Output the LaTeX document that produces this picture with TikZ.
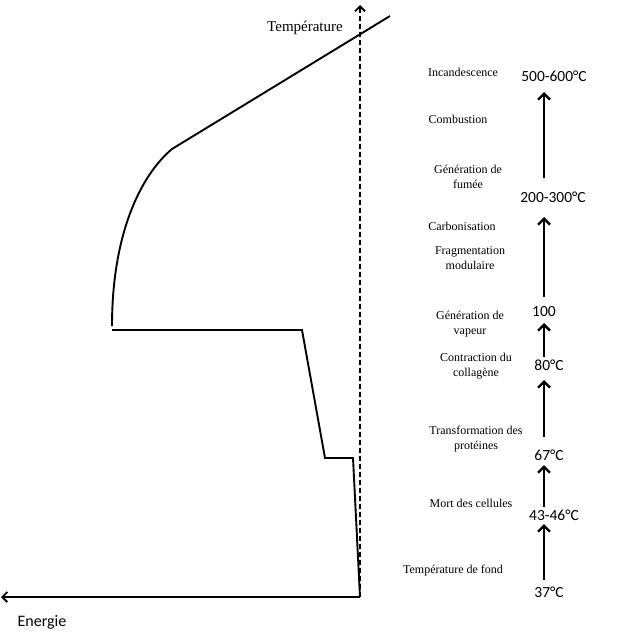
\documentclass[tikz,border=0pt]{standalone}
\usepackage{fontspec}
\setmainfont{Liberation Serif}
\newfontfamily\calib{Carlito}
\usetikzlibrary{arrows.meta}
\tikzset{
  lbl/.style={font=\fontsize{12}{15.5}\selectfont, align=center, inner sep=0pt},
  tmp/.style={font=\calib\fontsize{15.5}{18}\selectfont, inner sep=0pt},
  uparr/.style={line width=2.4pt, -{Straight Barb[length=6pt,width=12pt]}},
  curve/.style={line width=1.9pt, line join=miter},
  axisdash/.style={line width=1.8pt, dash pattern=on 5pt off 3pt, -{Straight Barb[length=5pt,width=10pt]}},
  axisen/.style={line width=1.9pt, -{Straight Barb[length=5pt,width=10pt]}}
}
\begin{document}
\begin{tikzpicture}[x=1pt,y=-1pt]
\useasboundingbox (0,0) rectangle (617,632);
% axes
\coordinate (O) at (360,597);
\coordinate (Ttop) at (360,5);
\coordinate (Eleft) at (1,597);
\draw[axisdash] (O) -- (Ttop);
\draw[axisen] (O) -- (Eleft);
\node[font=\fontsize{15}{18}\selectfont, inner sep=0pt] (tlab) at (305,28) {Température};
\node[font=\calib\fontsize{16}{19}\selectfont, inner sep=0pt] (elab) at (42,622) {Energie};
% curve
\coordinate (p1) at (353,458);
\coordinate (p2) at (325,458);
\coordinate (p3) at (302,330);
\coordinate (p4) at (112,330);
\coordinate (q0) at (112,326);
\coordinate (q1) at (172,149);
\coordinate (q2) at (390,16);
\draw[curve] (O) -- (p1) -- (p2) -- (p3) -- (p4);
\draw[curve] (q0) .. controls (112,235) and (140,176) .. (q1) -- (q2);
% right column labels
\node[lbl] (l1) at (463,72) {Incandescence};
\node[lbl] (l2) at (458,119) {Combustion};
\node[lbl] (l3) at (468,177) {Génération de\\fumée};
\node[lbl] (l4) at (462,226) {Carbonisation};
\node[lbl] (l5) at (470,258) {Fragmentation\\modulaire};
\node[lbl] (l6) at (470,324) {Génération de\\vapeur};
\node[lbl] (l7) at (476,366) {Contraction du\\collagène};
\node[lbl] (l8) at (476,439) {Transformation des\\protéines};
\node[lbl] (l9) at (471,503) {Mort des cellules};
\node[lbl] (l10) at (453,571) {Température de fond};
% temperatures
\node[tmp] (t1) at (554,76) {500-600°C};
\node[tmp] (t2) at (553,197) {200-300°C};
\node[tmp] (t3) at (544,312) {100};
\node[tmp] (t4) at (549,365) {80°C};
\node[tmp] (t5) at (549,455) {67°C};
\node[tmp] (t6) at (554,515) {43-46°C};
\node[tmp] (t7) at (549,592) {37°C};
% arrows
\coordinate (a1s) at (544,178); \coordinate (a1e) at (544,92);
\coordinate (a2s) at (544,297); \coordinate (a2e) at (544,217);
\coordinate (a3s) at (544,357); \coordinate (a3e) at (544,323);
\coordinate (a4s) at (544,437); \coordinate (a4e) at (544,380);
\coordinate (a5s) at (544,507); \coordinate (a5e) at (544,465);
\coordinate (a6s) at (544,580); \coordinate (a6e) at (544,524);
\draw[uparr] (a1s) -- (a1e);
\draw[uparr] (a2s) -- (a2e);
\draw[uparr] (a3s) -- (a3e);
\draw[uparr] (a4s) -- (a4e);
\draw[uparr] (a5s) -- (a5e);
\draw[uparr] (a6s) -- (a6e);
\end{tikzpicture}
\end{document}
